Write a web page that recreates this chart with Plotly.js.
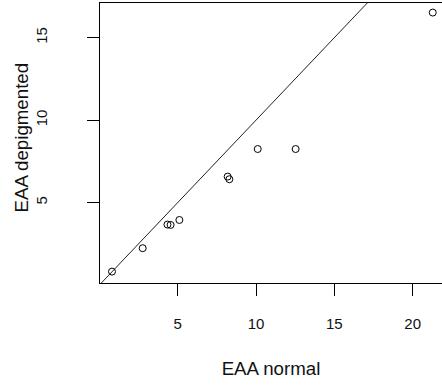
<!DOCTYPE html>
<html>
<head>
<meta charset="utf-8">
<script src="https://cdn.plot.ly/plotly-3.0.1.min.js"></script>
<style>html,body{margin:0;padding:0;background:#fff;}#chart{width:442px;height:387px;}</style>
</head>
<body>
<div id="chart"></div>
<script>
const eaaNormal = [0.81, 2.77, 4.35, 4.55, 5.11, 8.19, 8.30, 10.11, 12.53, 21.28];
const eaaDepigmented = [0.82, 2.24, 3.67, 3.65, 3.95, 6.58, 6.42, 8.25, 8.25, 16.52];
const xTicks = [5, 10, 15, 20];
const yTicks = [5, 10, 15];
const ablineIntercept = 0;
const ablineSlope = 1;

const xRange = [0.045, 21.87];
const yRange = [0.13, 17.1];

const lineX = [xRange[0] - 1, xRange[1] + 1];
const lineY = lineX.map(v => ablineIntercept + ablineSlope * v);

const font = {family: 'Liberation Sans, Arial, sans-serif', color: '#111'};

Plotly.newPlot('chart', [
  {x: lineX, y: lineY, mode: 'lines', line: {color: '#222', width: 1}, hoverinfo: 'skip', showlegend: false},
  {x: eaaNormal, y: eaaDepigmented, mode: 'markers', type: 'scatter', showlegend: false,
   marker: {symbol: 'circle-open', size: 7, color: '#000', line: {width: 1, color: '#000'}}}
], {
  width: 442, height: 387,
  margin: {l: 100, r: 0, t: 3, b: 104, pad: 0},
  paper_bgcolor: '#fff', plot_bgcolor: '#fff',
  font: Object.assign({size: 15}, font),
  xaxis: {
    range: xRange, tickvals: xTicks, ticktext: xTicks.map(String),
    showgrid: false, zeroline: false, showline: true, mirror: true, linecolor: '#000', linewidth: 1,
    ticks: 'outside', ticklen: 12, tickcolor: '#000', tickwidth: 1, ticklabelstandoff: 15,
    tickfont: Object.assign({size: 15}, font),
    title: {text: 'EAA normal', font: Object.assign({size: 18.7}, font), standoff: 30}
  },
  yaxis: {
    range: yRange, tickvals: yTicks, ticktext: yTicks.map(String), tickangle: -90,
    showgrid: false, zeroline: false, showline: true, mirror: false, linecolor: '#000', linewidth: 1,
    ticks: 'outside', ticklen: 12, tickcolor: '#000', tickwidth: 1, ticklabelstandoff: 34,
    tickfont: Object.assign({size: 15}, font)
  },
  annotations: [{
    text: 'EAA depigmented', textangle: -90, showarrow: false,
    xref: 'paper', yref: 'paper', x: (21 - 100) / 342, y: (283 - 137.5) / 280,
    xanchor: 'center', yanchor: 'middle',
    font: Object.assign({size: 18.7}, font)
  }]
}, {staticPlot: true, displayModeBar: false});
</script>
</body>
</html>
